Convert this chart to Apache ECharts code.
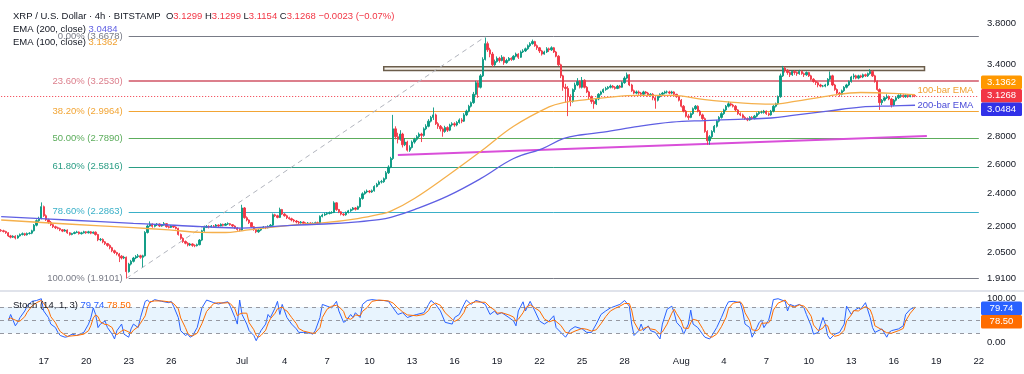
<!DOCTYPE html>
<html><head><meta charset="utf-8">
<script src="https://cdn.jsdelivr.net/npm/echarts@6/dist/echarts.min.js"></script>
<style>html,body{margin:0;padding:0;background:#fff}#c{width:1024px;height:374px}</style>
</head><body><div id="c"></div>
<script>
// ---------- DATA ----------
const startUTC = Date.UTC(2025, 5, 14);     // first 4h slot
const slotCount = 415;                       // 4h slots on the time axis (to Aug 22)
const firstOpen = 2.175;
const closes = [
2.172,2.168,2.160,2.142,2.135,2.140, 2.130,2.142,2.150,2.155,2.148,2.156,
2.158,2.172,2.205,2.232,2.246,2.318, 2.262,2.238,2.222,2.208,2.196,2.190,
2.186,2.178,2.170,2.176,2.160,2.150, 2.156,2.162,2.165,2.155,2.160,2.166,
2.160,2.166,2.158,2.164,2.150,2.120, 2.122,2.108,2.098,2.088,2.075,2.058,
2.048,2.040,2.028,2.018,2.022,1.945, 1.985,2.000,2.018,2.026,2.030,2.022,
2.030,2.162,2.200,2.212,2.198,2.206, 2.212,2.200,2.206,2.214,2.196,2.192,
2.200,2.194,2.186,2.150,2.128,2.110, 2.100,2.090,2.096,2.088,2.086,2.092,
2.118,2.172,2.192,2.198,2.194,2.200, 2.198,2.206,2.200,2.210,2.204,2.212,
2.214,2.208,2.200,2.188,2.180,2.176, 2.310,2.250,2.236,2.220,2.196,2.180,
2.166,2.176,2.188,2.194,2.190,2.198, 2.205,2.268,2.262,2.252,2.300,2.272,
2.262,2.250,2.244,2.236,2.230,2.224, 2.220,2.224,2.216,2.214,2.218,2.212,
2.216,2.220,2.218,2.258,2.266,2.272, 2.276,2.280,2.282,2.342,2.300,2.286,
2.272,2.268,2.282,2.292,2.300,2.310, 2.302,2.318,2.370,2.400,2.412,2.418,
2.412,2.420,2.448,2.462,2.478,2.480, 2.500,2.540,2.580,2.640,2.860,2.800,
2.780,2.820,2.740,2.760,2.700,2.720, 2.760,2.780,2.800,2.820,2.810,2.860,
2.880,2.920,2.950,2.970,2.900,2.880, 2.860,2.840,2.870,2.850,2.890,2.900,
2.890,2.910,2.930,2.920,2.970,3.000, 3.040,3.070,3.140,3.240,3.200,3.300,
3.450,3.600,3.540,3.500,3.400,3.430, 3.460,3.440,3.470,3.420,3.440,3.460,
3.450,3.480,3.500,3.470,3.520,3.530, 3.550,3.580,3.600,3.620,3.580,3.560,
3.530,3.500,3.520,3.550,3.540,3.560, 3.520,3.480,3.400,3.300,3.200,3.190,
3.120,3.080,3.180,3.220,3.250,3.200, 3.260,3.200,3.160,3.120,3.080,3.060,
3.100,3.140,3.160,3.180,3.190,3.200, 3.210,3.200,3.190,3.210,3.200,3.240,
3.280,3.310,3.220,3.170,3.150,3.160, 3.150,3.140,3.160,3.150,3.130,3.140,
3.110,3.090,3.120,3.140,3.150,3.160, 3.160,3.150,3.160,3.140,3.120,3.090,
3.040,3.000,2.960,2.950,2.980,3.020, 3.040,3.000,2.970,2.940,2.840,2.770,
2.800,2.840,2.880,2.920,2.950,2.980, 3.010,3.040,3.060,3.050,3.040,3.010,
2.980,2.970,2.950,2.940,2.930,2.950, 2.940,2.960,2.980,2.990,2.990,3.000,
2.980,2.970,3.000,3.040,3.060,3.120, 3.300,3.370,3.350,3.330,3.310,3.340,
3.330,3.320,3.340,3.320,3.310,3.330, 3.300,3.270,3.250,3.240,3.220,3.210,
3.210,3.220,3.270,3.300,3.220,3.180, 3.150,3.140,3.170,3.200,3.220,3.250,
3.290,3.300,3.280,3.300,3.290,3.310, 3.300,3.320,3.340,3.300,3.250,3.180,
3.070,3.090,3.110,3.120,3.100,3.050, 3.090,3.110,3.130,3.130,3.120,3.130,
3.120,3.130,3.1299,3.1268];
const highs = [
2.182,2.178,2.172,2.164,2.148,2.146, 2.146,2.148,2.156,2.162,2.160,2.162,
2.164,2.178,2.212,2.240,2.256,2.345, 2.325,2.270,2.244,2.230,2.214,2.202,
2.196,2.190,2.182,2.182,2.180,2.164, 2.160,2.168,2.172,2.168,2.166,2.172,
2.170,2.172,2.170,2.168,2.168,2.154, 2.130,2.128,2.112,2.102,2.094,2.080,
2.064,2.052,2.046,2.034,2.030,2.026, 1.992,2.008,2.024,2.034,2.040,2.036,
2.036,2.170,2.210,2.228,2.216,2.212, 2.218,2.216,2.212,2.224,2.218,2.202,
2.206,2.204,2.198,2.190,2.156,2.134, 2.116,2.106,2.102,2.100,2.094,2.098,
2.124,2.178,2.198,2.206,2.204,2.206, 2.206,2.212,2.210,2.216,2.214,2.218,
2.222,2.218,2.212,2.204,2.194,2.186, 2.330,2.316,2.258,2.240,2.224,2.200,
2.184,2.182,2.194,2.200,2.198,2.204, 2.212,2.276,2.274,2.268,2.312,2.304,
2.278,2.268,2.256,2.250,2.242,2.236, 2.230,2.230,2.228,2.222,2.224,2.222,
2.222,2.226,2.226,2.264,2.274,2.280, 2.284,2.288,2.290,2.352,2.346,2.304,
2.290,2.278,2.288,2.298,2.306,2.316, 2.316,2.324,2.378,2.410,2.420,2.428,
2.424,2.428,2.456,2.472,2.488,2.492, 2.508,2.552,2.592,2.652,2.970,2.880,
2.830,2.850,2.830,2.790,2.770,2.736, 2.772,2.792,2.812,2.832,2.830,2.872,
2.896,2.936,2.962,3.030,2.980,2.912, 2.890,2.872,2.884,2.880,2.900,2.912,
2.912,2.920,2.942,2.944,2.984,3.012, 3.052,3.080,3.160,3.256,3.252,3.316,
3.470,3.660,3.620,3.560,3.520,3.448, 3.478,3.474,3.490,3.476,3.456,3.472,
3.470,3.490,3.514,3.508,3.534,3.546, 3.562,3.592,3.614,3.640,3.628,3.592,
3.568,3.540,3.532,3.566,3.562,3.574, 3.568,3.530,3.490,3.410,3.310,3.230,
3.210,3.140,3.190,3.240,3.280,3.260, 3.290,3.270,3.210,3.170,3.130,3.094,
3.110,3.150,3.170,3.190,3.204,3.210, 3.224,3.220,3.210,3.220,3.220,3.252,
3.296,3.330,3.316,3.230,3.180,3.172, 3.172,3.160,3.170,3.168,3.160,3.150,
3.150,3.116,3.130,3.148,3.160,3.170, 3.172,3.170,3.170,3.166,3.144,3.126,
3.100,3.050,3.010,2.976,2.990,3.030, 3.050,3.048,3.010,2.980,2.950,2.850,
2.812,2.850,2.890,2.930,2.960,2.992, 3.020,3.050,3.080,3.074,3.060,3.050,
3.016,2.990,2.980,2.960,2.950,2.960, 2.960,2.970,2.990,3.000,3.004,3.010,
3.006,2.990,3.010,3.050,3.070,3.130, 3.320,3.390,3.384,3.360,3.340,3.350,
3.350,3.340,3.354,3.350,3.330,3.340, 3.336,3.310,3.280,3.260,3.250,3.230,
3.220,3.230,3.280,3.340,3.310,3.230, 3.190,3.160,3.180,3.210,3.230,3.260,
3.300,3.320,3.310,3.310,3.310,3.320, 3.320,3.330,3.360,3.350,3.310,3.260,
3.190,3.100,3.120,3.140,3.130,3.110, 3.100,3.120,3.140,3.150,3.140,3.140,
3.140,3.140,3.140,3.1299];
const lows = [
2.166,2.162,2.154,2.136,2.128,2.130, 2.122,2.126,2.138,2.145,2.142,2.144,
2.150,2.152,2.168,2.198,2.224,2.240, 2.255,2.230,2.214,2.200,2.188,2.182,
2.180,2.170,2.164,2.166,2.154,2.144, 2.146,2.152,2.158,2.150,2.150,2.156,
2.154,2.156,2.152,2.154,2.144,2.112, 2.112,2.100,2.090,2.080,2.066,2.050,
2.040,2.032,1.996,2.010,2.012,1.910, 1.940,1.978,1.994,2.012,2.018,2.014,
1.968,2.026,2.156,2.196,2.190,2.192, 2.200,2.194,2.196,2.202,2.190,2.186,
2.188,2.188,2.180,2.144,2.120,2.102, 2.094,2.082,2.084,2.080,2.078,2.082,
2.088,2.112,2.166,2.188,2.186,2.190, 2.192,2.194,2.194,2.198,2.198,2.200,
2.206,2.202,2.194,2.182,2.172,2.168, 2.172,2.244,2.228,2.212,2.190,2.172,
2.158,2.160,2.170,2.184,2.182,2.186, 2.192,2.200,2.254,2.246,2.248,2.266,
2.256,2.242,2.238,2.228,2.222,2.216, 2.212,2.214,2.210,2.206,2.208,2.206,
2.206,2.210,2.212,2.214,2.252,2.260, 2.266,2.270,2.274,2.278,2.292,2.278,
2.264,2.260,2.262,2.276,2.286,2.294, 2.294,2.298,2.312,2.362,2.394,2.404,
2.404,2.406,2.414,2.442,2.456,2.468, 2.472,2.494,2.532,2.572,2.630,2.780,
2.750,2.770,2.720,2.730,2.690,2.688, 2.712,2.748,2.770,2.790,2.760,2.800,
2.850,2.872,2.910,2.930,2.890,2.860, 2.840,2.800,2.830,2.836,2.842,2.878,
2.876,2.880,2.900,2.904,2.914,2.960, 2.990,3.030,3.060,3.130,3.110,3.190,
3.290,3.440,3.520,3.470,3.380,3.390, 3.420,3.420,3.432,3.400,3.410,3.432,
3.436,3.440,3.470,3.454,3.464,3.510, 3.520,3.540,3.566,3.590,3.570,3.540,
3.510,3.486,3.494,3.510,3.520,3.530, 3.510,3.470,3.390,3.280,3.170,3.070,
2.960,3.040,3.070,3.160,3.210,3.190, 3.190,3.190,3.150,3.100,3.060,3.020,
3.050,3.090,3.130,3.150,3.170,3.180, 3.190,3.190,3.180,3.184,3.190,3.196,
3.230,3.270,3.210,3.160,3.140,3.140, 3.136,3.126,3.130,3.140,3.120,3.120,
3.090,3.020,3.080,3.110,3.130,3.140, 3.146,3.140,3.140,3.130,3.110,3.080,
3.030,2.990,2.950,2.930,2.944,2.970, 3.010,2.990,2.960,2.930,2.830,2.740,
2.740,2.790,2.830,2.870,2.910,2.940, 2.970,3.000,3.030,3.040,3.030,3.000,
2.970,2.960,2.940,2.930,2.920,2.924, 2.930,2.934,2.950,2.970,2.980,2.980,
2.970,2.960,2.964,2.990,3.030,3.050, 3.110,3.290,3.330,3.310,3.290,3.300,
3.310,3.300,3.310,3.310,3.290,3.300, 3.290,3.260,3.240,3.220,3.200,3.200,
3.200,3.200,3.210,3.260,3.210,3.170, 3.130,3.120,3.130,3.160,3.190,3.210,
3.240,3.270,3.270,3.270,3.280,3.280, 3.290,3.290,3.310,3.290,3.240,3.170,
3.010,3.050,3.080,3.100,3.090,3.030, 3.040,3.080,3.100,3.110,3.110,3.110,
3.110,3.115,3.115,3.1154];
const ema100 = [[0,2.236],[28,2.212],[56,2.19],[71,2.177],[85,2.163],[95,2.162],[102,2.172],[123,2.205],[137,2.22],[151,2.245],[160,2.27],[165,2.29],[175,2.37],[189,2.52],[203,2.69],[217,2.88],[232,3.035],[238,3.07],[246,3.09],[255,3.11],[270,3.13],[284,3.13],[298,3.095],[312,3.07],[326,3.057],[336,3.08],[350,3.125],[364,3.155],[378,3.148],[387,3.1362]];
const ema200 = [[0,2.256],[28,2.236],[56,2.216],[71,2.206],[85,2.196],[102,2.188],[123,2.204],[137,2.212],[151,2.225],[160,2.238],[165,2.252],[175,2.30],[189,2.385],[203,2.50],[217,2.64],[229,2.71],[238,2.785],[246,2.815],[255,2.835],[270,2.88],[284,2.912],[298,2.925],[312,2.935],[326,2.945],[336,2.968],[350,3.00],[364,3.033],[378,3.043],[387,3.0484]];
const stochSlots = [3,4,6,7,8,10,11,13,15,17,18,20,21,23,24,25,27,28,30,32,35,37,38,39,40,41,42,44,45,47,48,49,51,52,54,55,56,58,59,61,62,63,65,68,71,72,73,75,76,78,79,80,81,83,85,87,90,92,94,96,97,99,100,101,102,104,105,107,108,109,110,112,113,114,116,117,118,119,120,121,123,125,126,128,131,132,133,135,136,138,140,142,143,145,146,148,149,150,152,153,155,157,160,162,164,166,168,170,172,174,176,179,181,182,184,186,188,191,192,194,196,197,199,201,203,205,207,209,210,212,215,217,218,219,221,222,224,226,228,230,232,234,235,237,239,241,243,246,248,250,252,254,256,258,260,262,264,266,267,268,270,271,272,274,275,277,279,280,282,284,285,286,288,289,291,292,293,295,297,298,300,301,303,305,307,308,310,313,314,315,317,318,320,321,322,323,325,326,327,329,332,333,334,336,338,340,341,343,344,346,348,349,350,351,353,355,357,358,360,361,363,364,366,368,369,370,373,375,376,377,380,382,383,385,387];
const stochK = [48,63,37,45,56,71,82,93,95,99,71,56,41,33,22,15,11,12,18,15,22,41,56,78,63,33,41,48,33,18,7,26,41,18,11,30,41,33,56,93,96,90,97,93,90,93,82,56,26,15,18,11,14,33,78,96,90,87,90,92,82,56,41,96,63,41,26,15,3,15,26,41,63,56,78,93,63,86,71,56,41,30,22,22,20,18,26,56,86,82,78,93,71,45,48,63,56,67,56,86,95,97,95,95,93,78,63,67,56,60,63,67,86,95,86,71,45,41,56,63,86,96,86,95,92,86,63,71,63,67,56,48,37,71,92,71,93,71,48,41,48,60,33,22,11,28,35,30,22,22,41,63,71,78,82,86,95,82,41,15,26,41,26,37,26,22,7,41,75,82,67,45,33,18,41,73,41,33,18,11,7,15,33,56,82,92,93,90,71,41,33,11,33,45,50,33,50,71,97,99,93,71,86,82,86,78,63,37,18,22,56,41,15,7,18,22,41,82,63,71,78,75,90,56,33,22,30,11,22,26,30,37,63,75,79.74];
const stochD = [52,55,50,47,48,58,68,82,90,95,88,74,58,44,33,24,16,13,14,15,18,26,38,55,62,58,46,40,40,33,20,17,25,28,23,20,27,35,43,60,80,92,94,94,92,91,88,76,55,33,20,15,14,20,42,70,88,90,89,90,88,76,60,64,66,66,44,28,15,11,15,27,42,53,66,76,78,80,74,71,56,42,31,25,21,20,21,33,56,75,82,84,81,70,55,52,56,62,60,70,79,93,96,95,94,89,78,69,62,61,60,63,72,83,89,84,67,52,47,53,68,82,89,92,91,91,80,73,66,67,62,57,47,52,67,78,85,78,71,53,46,50,47,38,22,20,25,31,29,25,28,42,58,71,77,82,88,88,73,46,27,27,31,35,30,28,18,23,41,66,75,65,48,32,31,44,52,49,31,21,12,11,18,35,57,77,89,92,85,67,48,28,26,30,43,43,44,51,73,89,96,88,83,80,85,82,76,59,39,26,32,40,37,21,13,16,27,48,62,72,71,75,81,74,60,37,28,21,21,20,26,31,48,66,78.5];
const fibPrices = [3.6678, 3.2530, 2.9964, 2.7890, 2.5816, 2.2863, 1.9101];
const fibNames  = ['0.00% (3.6678)','23.60% (3.2530)','38.20% (2.9964)','50.00% (2.7890)','61.80% (2.5816)','78.60% (2.2863)','100.00% (1.9101)'];
const fibStartSlot = 54;
const fibSwing = [[53, 1.9101], [205, 3.6678]];
const trendline = [[168, 2.666], [392, 2.805]];
const zone = [[162, 3.383], [391, 3.348]];
const priceTicks = [1.91, 2.05, 2.2, 2.4, 2.6, 2.8, 3.4, 3.8];
const stochTicks = [0, 100];
const stochLevels = [80, 50, 20];
const xTickDates = ['2025-06-17','2025-06-20','2025-06-23','2025-06-26','2025-07-01','2025-07-04','2025-07-07','2025-07-10','2025-07-13','2025-07-16','2025-07-19','2025-07-22','2025-07-25','2025-07-28','2025-08-01','2025-08-04','2025-08-07','2025-08-10','2025-08-13','2025-08-16','2025-08-19','2025-08-22'];
const monthNames = {'06':'Jun','07':'Jul','08':'Aug'};
const lastBar = {o:3.1299, h:3.1299, l:3.1154, c:3.1268, chg:'\u22120.0023', pct:'\u22120.07%'};
const stochLast = [79.74, 78.50];
const emaTagAnchors = [[388, 3.170], [388, 3.051]];

// ---------- STYLE ----------
const FONT = '"Liberation Sans", Arial, sans-serif';
const UP = '#089981', DOWN = '#f23645';
const C_EMA100 = '#f5b04c', C_EMA200 = '#5f5fe3';
const BOX_ORANGE = '#ff9800', BOX_BLUE = '#3131e8';
const fibColors = ['#787b86','#dc7f8c','#f2a535','#5cad5c','#2a9d84','#3ab0c8','#787b86'];

// ---------- BUILD ----------
function pad(n){return (n<10?'0':'')+n;}
const cats = [];
for (let i = 0; i < slotCount; i++) {
  const d = new Date(startUTC + i * 4 * 3600 * 1000);
  cats.push(d.getUTCFullYear()+'-'+pad(d.getUTCMonth()+1)+'-'+pad(d.getUTCDate())+' '+pad(d.getUTCHours())+':00');
}
const tickSet = new Set(xTickDates);
const candles = closes.map((c, i) => {
  const o = i === 0 ? firstOpen : closes[i-1];
  return [o, c, Math.min(lows[i], o, c), Math.max(highs[i], o, c)];
});
const lastSlot = slotCount - 1;

const fibLines = fibPrices.map((p, i) => [
  {coord:[fibStartSlot, p], lineStyle:{color: fibColors[i], width: i===1 ? 2 : 1, type:'solid'},
   label:{show:true, position:'start', formatter: fibNames[i], color: fibColors[i], fontSize: 9.5, fontFamily: FONT, distance: 6}},
  {coord:[lastSlot, p]}
]);
const extraLines = [
  [{coord:[0, lastBar.c], lineStyle:{color: DOWN, width:1, type:[1,2]}, label:{show:false}}, {coord:[lastSlot, lastBar.c]}],
  [{coord: fibSwing[0], lineStyle:{color:'#b2b5be', width:1, type:[5,4]}, label:{show:false}}, {coord: fibSwing[1]}],
  [{coord: trendline[0], lineStyle:{color:'#d94fd9', width:2, type:'solid'}, label:{show:false}}, {coord: trendline[1]}]
];

const option = {
  animation: false,
  backgroundColor: '#ffffff',
  grid: [
    {left: 0, right: 44, top: 5, height: 285},
    {left: 0, right: 44, top: 292, height: 56}
  ],
  xAxis: [
    {type:'category', gridIndex:0, data: cats, boundaryGap:true,
     axisLine:{show:false}, axisTick:{show:false}, axisLabel:{show:false}, splitLine:{show:false}},
    {type:'category', gridIndex:1, data: cats, boundaryGap:true,
     axisLine:{show:false}, axisTick:{show:false}, splitLine:{show:false},
     axisLabel:{
       interval: (idx, val) => val.endsWith(' 00:00') && tickSet.has(val.slice(0,10)),
       formatter: (val) => { const d = val.slice(8,10); return d === '01' ? monthNames[val.slice(5,7)] : String(+d); },
       color:'#131722', fontSize: 9.5, fontFamily: FONT, margin: 8
     }}
  ],
  yAxis: [
    {type:'log', gridIndex:0, position:'right', min: 1.851, max: 3.996, logBase: 10,
     axisLine:{show:false}, axisTick:{show:false}, splitLine:{show:false},
     axisLabel:{customValues: priceTicks, formatter: v => Number(v).toFixed(4), color:'#131722', fontSize: 9.5, fontFamily: FONT, margin: 7}},
    {type:'value', gridIndex:1, position:'right', min: -13.7, max: 114.4,
     axisLine:{show:false}, axisTick:{show:false}, splitLine:{show:false},
     axisLabel:{customValues: stochTicks, formatter: v => Number(v).toFixed(2), color:'#131722', fontSize: 9.5, fontFamily: FONT, margin: 7}}
  ],
  series: [
    {type:'candlestick', name:'XRP', xAxisIndex:0, yAxisIndex:0, data: candles, barWidth: 1.8, z: 3,
     itemStyle:{color: UP, color0: DOWN, borderColor: UP, borderColor0: DOWN, borderWidth: 0.9},
     markLine:{silent:true, symbol:['none','none'], z: 1, data: fibLines.concat(extraLines)},
     markArea:{silent:true, z: 1, itemStyle:{color:'#f4f1ea', borderColor:'#6b5d4b', borderWidth:1.5},
               data:[[{coord: zone[0]}, {coord: zone[1]}]]}
    },
    {type:'line', name:'EMA100', xAxisIndex:0, yAxisIndex:0, data: ema100, smooth: 0.4, showSymbol:false, symbol:'none',
     lineStyle:{color: C_EMA100, width: 1.3}, z: 4},
    {type:'line', name:'EMA200', xAxisIndex:0, yAxisIndex:0, data: ema200, smooth: 0.4, showSymbol:false, symbol:'none',
     lineStyle:{color: C_EMA200, width: 1.3}, z: 4},
    {type:'line', name:'%K', xAxisIndex:1, yAxisIndex:1, data: stochSlots.map((s,i)=>[s, stochK[i]]), showSymbol:false, symbol:'none',
     lineStyle:{color:'#2962ff', width: 1}, z: 4,
     markArea:{silent:true, itemStyle:{color:'rgba(33,150,243,0.1)'}, data:[[{yAxis: stochLevels[2]}, {yAxis: stochLevels[0]}]]},
     markLine:{silent:true, symbol:['none','none'], label:{show:false}, lineStyle:{color:'#9598a1', type:[4,4], width:1},
               data: stochLevels.map(v => ({yAxis: v}))}
    },
    {type:'line', name:'%D', xAxisIndex:1, yAxisIndex:1, data: stochSlots.map((s,i)=>[s, stochD[i]]), showSymbol:false, symbol:'none',
     lineStyle:{color:'#ff6d00', width: 1}, z: 5}
  ]
};

const chart = echarts.init(document.getElementById('c'));
chart.setOption(option);

const yP = v => chart.convertToPixel({yAxisIndex:0}, v);
const yS = v => chart.convertToPixel({yAxisIndex:1}, v);
const xS = s => chart.convertToPixel({xAxisIndex:0}, s);

function txt(text, x, y, fill, extra) {
  return Object.assign({type:'text', z: 200, style: Object.assign({text, x, y, fill, fontSize: 9.5, fontFamily: FONT,
    align:'left', verticalAlign:'middle', textAlign:'left', textVerticalAlign:'middle'}, extra || {})});
}
function box(cy, color, text) {
  return [
    {type:'rect', z: 210, shape:{x: 981, y: cy - 6.75, width: 41, height: 13.5, r: 1.5}, style:{fill: color}},
    {type:'text', z: 211, style:{text, x: 1001.5, y: cy, fill:'#ffffff', fontSize: 9.5, fontFamily: FONT,
      align:'center', verticalAlign:'middle', textAlign:'center', textVerticalAlign:'middle'}}
  ];
}

const ema100Last = ema100[ema100.length-1][1], ema200Last = ema200[ema200.length-1][1];
const redY = yP(lastBar.c);
const stochBlueY = yS(stochLast[0]) + 1;

const graphics = [
  {type:'line', z: 150, shape:{x1: 0, y1: 291, x2: 1024, y2: 291}, style:{stroke:'#e0e3eb', lineWidth: 2}},
  {type:'text', z: 200, style:{x: 13, y: 16, verticalAlign:'middle', textVerticalAlign:'middle', fontSize: 9.5, fontFamily: FONT,
    text: '{t|XRP / U.S. Dollar \u00b7 4h \u00b7 BITSTAMP  O}{r|' + lastBar.o.toFixed(4) + '}{t| H}{r|' + lastBar.h.toFixed(4) +
          '}{t| L}{r|' + lastBar.l.toFixed(4) + '}{t| C}{r|' + lastBar.c.toFixed(4) + '}{r| ' + lastBar.chg + ' (' + lastBar.pct + ')}',
    rich:{t:{fill:'#131722', fontSize: 9.5, fontFamily: FONT}, r:{fill: DOWN, fontSize: 9.5, fontFamily: FONT}}}},
  {type:'text', z: 200, style:{x: 13, y: 29, verticalAlign:'middle', textVerticalAlign:'middle', fontSize: 9.5, fontFamily: FONT,
    text: '{t|EMA (200, close)} {v|' + ema200Last.toFixed(4) + '}',
    rich:{t:{fill:'#131722', fontSize: 9.5, fontFamily: FONT}, v:{fill: C_EMA200, fontSize: 9.5, fontFamily: FONT}}}},
  {type:'text', z: 200, style:{x: 13, y: 42.5, verticalAlign:'middle', textVerticalAlign:'middle', fontSize: 9.5, fontFamily: FONT,
    text: '{t|EMA (100, close)} {v|' + ema100Last.toFixed(4) + '}',
    rich:{t:{fill:'#131722', fontSize: 9.5, fontFamily: FONT}, v:{fill: '#f0a030', fontSize: 9.5, fontFamily: FONT}}}},
  {type:'text', z: 200, style:{x: 13, y: 305, verticalAlign:'middle', textVerticalAlign:'middle', fontSize: 9.5, fontFamily: FONT,
    text: '{t|Stoch (14, 1, 3)} {k|' + stochLast[0].toFixed(2) + '} {d|' + stochLast[1].toFixed(2) + '}',
    rich:{t:{fill:'#131722', fontSize: 9.5, fontFamily: FONT}, k:{fill:'#2962ff', fontSize: 9.5, fontFamily: FONT}, d:{fill:'#ff6d00', fontSize: 9.5, fontFamily: FONT}}}},
  txt('100-bar EMA', xS(emaTagAnchors[0][0]), yP(emaTagAnchors[0][1]), '#f0a030'),
  txt('200-bar EMA', xS(emaTagAnchors[1][0]), yP(emaTagAnchors[1][1]), '#4a4ad8')
].concat(
  box(redY - 13.5, BOX_ORANGE, ema100Last.toFixed(4)),
  box(redY, DOWN, lastBar.c.toFixed(4)),
  box(Math.max(redY + 13.5, yP(ema200Last)), BOX_BLUE, ema200Last.toFixed(4)),
  box(stochBlueY, '#2962ff', stochLast[0].toFixed(2)),
  box(stochBlueY + 13.5, '#ff6d00', stochLast[1].toFixed(2))
);
chart.setOption({graphic: graphics});
</script>
</body></html>
